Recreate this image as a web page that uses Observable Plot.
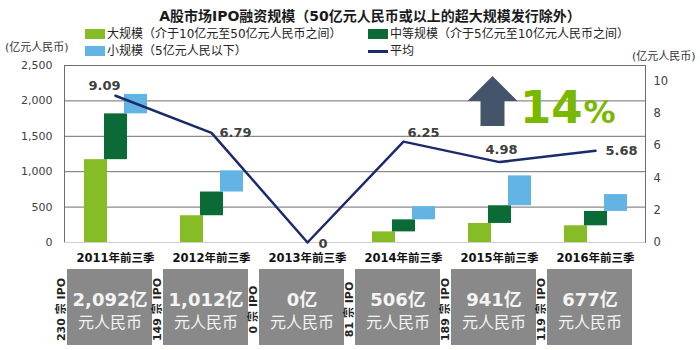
<!DOCTYPE html>
<html><head><meta charset="utf-8">
<script src="https://cdn.jsdelivr.net/npm/d3@7"></script>
<script src="https://cdn.jsdelivr.net/npm/@observablehq/plot@0.6"></script>
<style>
body{margin:0;background:#fff;font-family:"DejaVu Sans","Noto Sans CJK SC",sans-serif;}
#chart{position:relative;width:700px;height:350px;overflow:hidden;background:#fff;}
.abs{position:absolute;white-space:nowrap;line-height:14px;}
.title{font-weight:bold;font-size:14px;color:#1a1a1a;top:8px;left:0;width:740px;text-align:center;line-height:16px;}
.leg{font-size:12px;color:#222;}
.sw{position:absolute;width:20px;height:10px;}
.unit{font-size:11px;color:#333;}
#main,#boxes{position:absolute;left:0;}
#main{top:58px;z-index:1;}
#boxes{top:268px;}
.hdr{z-index:2;}
</style>
</head><body>
<div id="chart">
  <div class="abs title hdr">A股市场IPO融资规模（50亿元人民币或以上的超大规模发行除外）</div>
  <div class="sw hdr" style="left:85px;top:29px;background:#86BC25"></div>
  <div class="abs leg hdr" style="left:107px;top:27px">大规模（介于10亿元至50亿元人民币之间）</div>
  <div class="sw hdr" style="left:368px;top:29px;background:#0B6B37"></div>
  <div class="abs leg hdr" style="left:390px;top:27px">中等规模（介于5亿元至10亿元人民币之间）</div>
  <div class="sw hdr" style="left:85px;top:46px;background:#62B4E4"></div>
  <div class="abs leg hdr" style="left:107px;top:44px">小规模（5亿元人民以下）</div>
  <div class="sw hdr" style="left:368px;top:50px;height:3px;background:#1B2A6B"></div>
  <div class="abs leg hdr" style="left:390px;top:44px">平均</div>
  <div class="abs unit hdr" style="left:5px;top:41px">(亿元人民币)</div>
  <div class="abs unit hdr" style="left:632px;top:50px">(亿元人民币)</div>
  <div id="main"></div>
  <div id="boxes"></div>
</div>
<script>
const categories = ["2011年前三季","2012年前三季","2013年前三季","2014年前三季","2015年前三季","2016年前三季"];
const large  = [1170, 378, 0, 150, 269, 236];
const medium = [647, 335, 0, 170, 250, 203];
const small  = [275, 299, 0, 186, 422, 238];
const average = [9.09, 6.79, 0, 6.25, 4.98, 5.68];
const totalValue = [2092, 1012, 0, 506, 941, 677];
const ipoCount = [230, 149, 0, 81, 189, 119];
const leftTicks = [0, 500, 1000, 1500, 2000, 2500];
const rightTicks = [0, 2, 4, 6, 8, 10];
const growthCategory = "2015年前三季";
const growthBase = 2000;
const growthPct = 14;

const K = 228; // one unit on the right axis expressed in left-axis units
const FONT = '"DejaVu Sans","Noto Sans CJK SC",sans-serif';

const rows = categories.map((cat, i) => ({
  cat,
  large: large[i],
  mid: large[i] + medium[i],
  top: large[i] + medium[i] + small[i],
  avg: average[i],
  avgY: average[i] * K,
  total: totalValue[i],
  ipo: ipoCount[i]
}));

const arrowSymbol = {
  draw(ctx, size) {
    const s = Math.sqrt(size / Math.PI) / 25;
    ctx.moveTo(0, -25 * s);
    ctx.lineTo(25 * s, 0);
    ctx.lineTo(12 * s, 0);
    ctx.lineTo(12 * s, 25 * s);
    ctx.lineTo(-12 * s, 25 * s);
    ctx.lineTo(-12 * s, 0);
    ctx.lineTo(-25 * s, 0);
    ctx.closePath();
  }
};

const avgFmt = d => d.avg === 0 ? "0" : d3.format(".2f")(d.avg);
const lbl = (cats, opts) => Plot.text(rows.filter(d => cats.includes(d.cat)), {
  x: "cat", y: "avgY", text: avgFmt, fontSize: 13, fontWeight: "bold", fill: "#404040", ...opts
});

const main = Plot.plot({
  width: 700, height: 210,
  marginTop: 7, marginBottom: 26, marginLeft: 64, marginRight: 55,
  style: {fontFamily: FONT, background: "transparent", overflow: "visible"},
  x: {domain: categories, padding: 0},
  y: {domain: [0, 2500]},
  marks: [
    Plot.gridY([500, 1000, 1500, 2000], {stroke: "#6E6E6E", strokeOpacity: 1}),
    Plot.barY(rows.filter(d => d.large > 0), {x: "cat", y1: 0, y2: "large", fill: "#86BC25", insetLeft: 17, insetRight: 56}),
    Plot.barY(rows.filter(d => d.mid > d.large), {x: "cat", y1: "large", y2: "mid", fill: "#0B6B37", insetLeft: 37, insetRight: 36}),
    Plot.barY(rows.filter(d => d.top > d.mid), {x: "cat", y1: "mid", y2: "top", fill: "#62B4E4", insetLeft: 57, insetRight: 16}),
    Plot.frame({stroke: "#6E6E6E"}),
    Plot.ruleY([0], {stroke: "#D0D0D0"}),
    Plot.line(rows, {x: "cat", y: "avgY", stroke: "#1B2A6B", strokeWidth: 2.5}),
    lbl(["2011年前三季"], {dx: -11, dy: -10}),
    lbl(["2012年前三季"], {textAnchor: "start", dx: 8}),
    lbl(["2013年前三季"], {textAnchor: "start", dx: 11, dy: 1}),
    lbl(["2014年前三季"], {dx: 20, dy: -9}),
    lbl(["2015年前三季"], {dx: 2, dy: -12}),
    lbl(["2016年前三季"], {textAnchor: "start", dx: 10}),
    Plot.dot([growthCategory], {x: d => d, y: () => growthBase, r: 25, symbol: arrowSymbol, fill: "#44546A", stroke: "none", dx: -7}),
    Plot.text([growthCategory], {x: d => d, y: () => growthBase, text: () => String(growthPct), textAnchor: "end", lineAnchor: "bottom", dx: 83, dy: 22, fontSize: 45, fontWeight: "bold", fill: "#7AB800"}),
    Plot.text([growthCategory], {x: d => d, y: () => growthBase, text: () => "%", textAnchor: "start", lineAnchor: "bottom", dx: 84, dy: 22, fontSize: 32, fontWeight: "bold", fill: "#7AB800"}),
    Plot.axisY(leftTicks, {anchor: "left", tickSize: 0, tickPadding: 12, tickFormat: d3.format(","), fontSize: 11, fill: "#404040", label: null}),
    Plot.axisY(rightTicks.map(v => v * K), {anchor: "right", tickSize: 0, tickPadding: 8, tickFormat: d => String(Math.round(d / K)), fontSize: 11.5, fill: "#404040", label: null}),
    Plot.axisX({tickSize: 0, tickPadding: 11, fontSize: 11.5, fontWeight: "bold", fill: "#111", label: null})
  ]
});
document.getElementById("main").appendChild(main);

const boxes = Plot.plot({
  width: 700, height: 82,
  marginTop: 1, marginBottom: 5, marginLeft: 64, marginRight: 55,
  style: {fontFamily: FONT, background: "transparent", overflow: "visible"},
  x: {domain: categories, padding: 0, axis: null},
  marks: [
    Plot.cell(rows, {x: "cat", fill: "#898989", insetRight: 11}),
    Plot.text(rows, {x: "cat", text: d => d3.format(",")(d.total) + "亿", frameAnchor: "middle", dx: -5.5, dy: -7, fontSize: 18, fontWeight: "bold", fill: "#F4F4F4"}),
    Plot.text(rows, {x: "cat", text: () => "元人民币", frameAnchor: "middle", dx: -5.5, dy: 15, fontSize: 16, fill: "#F4F4F4"}),
    Plot.text(rows, {x: "cat", text: d => `${d.ipo} 宗 IPO`, rotate: -90, frameAnchor: "middle", dx: -54.5, dy: 2, fontSize: 11, fontWeight: "bold", fill: "#222"})
  ]
});
document.getElementById("boxes").appendChild(boxes);
</script>
</body></html>
